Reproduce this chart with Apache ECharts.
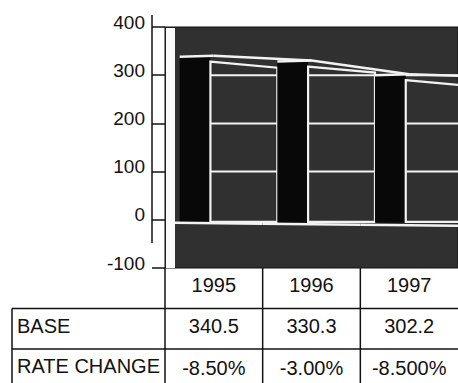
<!DOCTYPE html>
<html>
<head>
<meta charset="utf-8">
<script src="https://cdn.jsdelivr.net/npm/echarts@6/dist/echarts.min.js"></script>
<style>
html,body{margin:0;padding:0;background:#fff;}
#chart{width:458px;height:383px;}
</style>
</head>
<body>
<div id="chart"></div>
<script>
// ---- data ----
const categories = ['1995', '1996', '1997'];
const baseValues = [340.5, 330.3, 302.2];
const rateChange = ['-8.50%', '-3.00%', '-8.500%'];
const rowLabels = ['BASE', 'RATE CHANGE'];
const yTicks = [-100, 0, 100, 200, 300, 400];

const FONT = 'Liberation Sans, Arial, sans-serif';
const INK = '#111111';
const WHITE = '#f2f2f2';

const chart = echarts.init(document.getElementById('chart'), null, { renderer: 'svg' });

function renderBar(params, api) {
  const i = api.value(0);
  const v = api.value(1);
  const p = api.coord([i, v]);
  const p0 = api.coord([i, 0]);
  const bw = api.size([1, 0])[0];
  const L = p[0] - bw / 2;
  const sx0 = L + 0.15 * bw;
  const sx1 = L + 0.465 * bw;
  const fx1 = L + 1.15 * bw;
  const yTop = p[1];
  const y0 = p0[1];
  const children = [];
  if (i === 0) {
    const yMax = api.coord([i, yTicks[yTicks.length - 1]])[1];
    const yMin = api.coord([i, yTicks[0]])[1];
    children.push({ type: 'rect', shape: { x: L + 1, y: yMax + 1, width: 9, height: yMin - yMax - 1 }, style: { fill: '#fafafa' } });
  }
  // dark side of the bar
  children.push({ type: 'rect', shape: { x: sx0, y: yTop, width: sx1 - sx0, height: y0 + 3 - yTop }, style: { fill: '#080808' } });
  // front face (slightly sloping top)
  children.push({
    type: 'polygon',
    shape: { points: [[sx1, yTop + 6], [fx1, yTop + 12], [fx1, y0 + 2], [sx1, y0 + 2]] },
    style: { fill: '#303030', stroke: WHITE, lineWidth: 2.2 }
  });
  // grid lines inside the face
  yTicks.filter(t => t > 0 && t < v).forEach(t => {
    const yy = api.coord([i, t])[1];
    children.push({ type: 'line', shape: { x1: sx1, y1: yy, x2: fx1, y2: yy }, style: { stroke: WHITE, lineWidth: 2 } });
  });
  // side top edge
  children.push({ type: 'line', shape: { x1: sx0, y1: yTop + 1, x2: p[0], y2: yTop }, style: { stroke: WHITE, lineWidth: 2.5 } });
  // floor line
  children.push({ type: 'line', shape: { x1: i === 0 ? L + 10 : L, y1: y0 + 3 + i, x2: L + bw, y2: y0 + 4 + i }, style: { stroke: WHITE, lineWidth: 2.5 } });
  if (i === baseValues.length - 1) {
    children.push({ type: 'line', shape: { x1: p[0], y1: yTop, x2: L + bw + 10, y2: yTop + 2 }, style: { stroke: WHITE, lineWidth: 2.5 } });
  }
  return { type: 'group', children };
}

const GRID_LEFT = 165, AXIS_OFFSET = 13;

chart.setOption({
  animation: false,
  grid: { left: GRID_LEFT, right: -4, top: 27, bottom: 115, show: true, backgroundColor: '#303030', borderColor: '#111', borderWidth: 1 },
  xAxis: {
    type: 'category', data: categories,
    axisLine: { show: false }, axisTick: { show: false }, axisLabel: { show: false }, splitLine: { show: false }
  },
  yAxis: {
    type: 'value', min: yTicks[0], max: yTicks[yTicks.length - 1], interval: 100, offset: AXIS_OFFSET,
    axisLine: { show: false },
    axisTick: { show: true, inside: true, length: 13, lineStyle: { color: INK, width: 1.5 } },
    axisLabel: { color: INK, fontSize: 19, fontFamily: FONT, margin: 7, verticalAlign: 'bottom', lineHeight: 10 },
    splitLine: { show: false }
  },
  series: [
    { type: 'custom', data: baseValues.map((v, i) => [i, v]), renderItem: renderBar, z: 2 },
    { type: 'line', data: baseValues, symbol: 'none', lineStyle: { color: WHITE, width: 2.5 }, z: 3 }
  ]
});

// ---- table under the chart ----
const colX = categories.map(c => chart.convertToPixel({ xAxisIndex: 0 }, c));
const colW = colX[1] - colX[0];
const yTable = chart.convertToPixel({ yAxisIndex: 0 }, yTicks[0]);
const yTopTick = chart.convertToPixel({ yAxisIndex: 0 }, yTicks[yTicks.length - 1]);
const rowH = 40.5;
const tableLeft = 12;
const tableBottom = 400;
const lineStyle = { stroke: INK, lineWidth: 1.5 };
const textBase = { fill: INK, fontSize: 20, fontFamily: FONT };
const g = [];
// y axis line (as scanned: starts above the top tick, stops above the bottom tick)
g.push({ type: 'line', shape: { x1: GRID_LEFT - AXIS_OFFSET, y1: yTopTick - 12, x2: GRID_LEFT - AXIS_OFFSET, y2: yTable - 25 }, style: lineStyle });
colX.forEach(cx => {
  g.push({ type: 'line', shape: { x1: cx - colW / 2, y1: yTable, x2: cx - colW / 2, y2: tableBottom }, style: lineStyle });
});
[1, 2].forEach(r => {
  g.push({ type: 'line', shape: { x1: tableLeft, y1: yTable + r * rowH, x2: colX[colX.length - 1] + colW / 2, y2: yTable + r * rowH }, style: lineStyle });
});
g.push({ type: 'line', shape: { x1: tableLeft, y1: yTable + rowH, x2: tableLeft, y2: tableBottom }, style: lineStyle });
categories.forEach((c, k) => {
  g.push({ type: 'text', x: colX[k], y: yTable + rowH / 2 - 3, style: Object.assign({ text: c, align: 'center', verticalAlign: 'middle' }, textBase) });
  g.push({ type: 'text', x: colX[k], y: yTable + rowH * 1.5 - 3, style: Object.assign({ text: String(baseValues[k]), align: 'center', verticalAlign: 'middle' }, textBase) });
  g.push({ type: 'text', x: colX[k], y: yTable + rowH * 2.5 - 1, style: Object.assign({ text: rateChange[k], align: 'center', verticalAlign: 'middle' }, textBase) });
});
rowLabels.forEach((t, r) => {
  g.push({ type: 'text', x: tableLeft + 5, y: yTable + rowH * (1.5 + r) - 3, style: Object.assign({ text: t, align: 'left', verticalAlign: 'middle' }, textBase) });
});
chart.setOption({ graphic: g });
</script>
</body>
</html>
